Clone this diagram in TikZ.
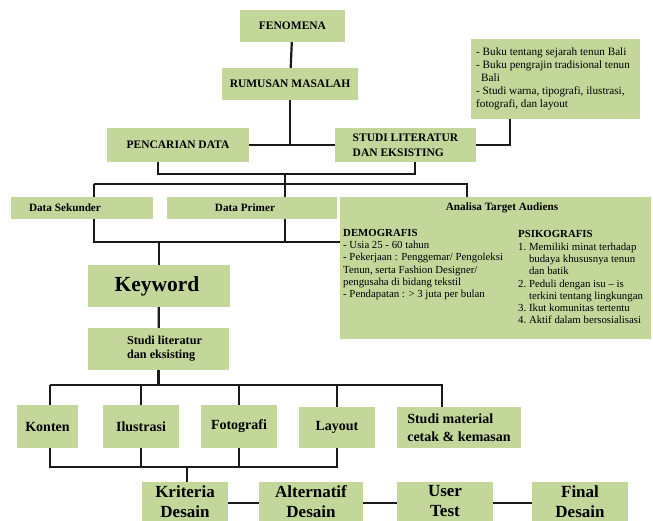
\documentclass[tikz,border=0pt]{standalone}
\usepackage{fontspec}
\setmainfont{Liberation Serif}
\usetikzlibrary{backgrounds}
\definecolor{boxgreen}{HTML}{C4D79B}
\definecolor{linecol}{HTML}{1A1A1A}
\newcommand{\fs}[2]{\fontsize{#1}{#2}\selectfont}
\begin{document}
\begin{tikzpicture}[x=1pt,y=-1pt,
  gbox/.style={fill=boxgreen, draw=none, inner sep=0pt, align=center, font=\bfseries},
  conn/.style={draw=linecol, line width=2.2pt},
  txt/.style={inner sep=0pt, anchor=north west, align=left},
]
\useasboundingbox (0,0) rectangle (653,521);
\clip (0,0) rectangle (653,521);

% top part
\node[gbox, minimum width=105pt, minimum height=32pt, font=\bfseries\fs{11.5}{13}] (fen) at (292.5,26) {FENOMENA};
\node[gbox, minimum width=136pt, minimum height=32pt, font=\bfseries\fs{11.5}{13}] (rum) at (290,84) {RUMUSAN MASALAH};
\node[gbox, minimum width=142pt, minimum height=34pt, font=\bfseries\fs{11.5}{13}] (pen) at (178,145) {PENCARIAN DATA};
\node[gbox, minimum width=141pt, minimum height=34pt, align=left, font=\bfseries\fs{11.5}{15}] (stu) at (405.5,145) {STUDI LITERATUR\\DAN EKSISTING};
\node[gbox, minimum width=169pt, minimum height=80pt] (note) at (555.5,79) {};
\node[txt, font=\fs{11.2}{13}] (notet) at (476,47.5) {- Buku tentang sejarah tenun Bali\\- Buku pengrajin tradisional tenun\\\hspace*{5pt}Bali\\- Studi warna, tipografi, ilustrasi,\\fotografi, dan layout};

% data row
\node[gbox, minimum width=142pt, minimum height=22pt, font=\bfseries\fs{11.2}{13}] (dsek) at (82,208) {Data Sekunder\hspace*{34pt}};
\node[gbox, minimum width=170pt, minimum height=22pt, font=\bfseries\fs{11.2}{13}] (dpri) at (252,208) {Data Primer\hspace*{14pt}};
\node[gbox, minimum width=311pt, minimum height=142pt] (ana) at (495.5,268) {};
\node[inner sep=0pt, font=\bfseries\fs{11.2}{13}] (anat) at (502,208) {Analisa Target Audiens};
\node[txt, font=\fs{10.8}{12.3}] (demo) at (343,229) {\textbf{DEMOGRAFIS}\\- Usia 25 - 60 tahun\\- Pekerjaan : Penggemar/ Pengoleksi\\Tenun, serta Fashion Designer/\\pengusaha di bidang tekstil\\- Pendapatan : > 3 juta per bulan};
\node[txt, font=\fs{10.8}{12.3}] (psiko) at (518,229) {\begin{tabular}{@{}l@{\ }l@{}}\multicolumn{2}{@{}l@{}}{\textbf{PSIKOGRAFIS}}\\
1. & Memiliki minat terhadap\\
 & budaya khususnya tenun\\
 & dan batik\\
2. & Peduli dengan isu – is\\
 & terkini tentang lingkungan\\
3. & Ikut komunitas tertentu\\
4. & Aktif dalam bersosialisasi\end{tabular}};

% keyword
\node[gbox, minimum width=142pt, minimum height=42pt, font=\bfseries\fs{21.5}{24}] (key) at (159,286) {Keyword\hspace*{4pt}};
\node[gbox, minimum width=141pt, minimum height=42pt, align=left, font=\bfseries\fs{12.2}{14}] (sl) at (158.5,349) {\hspace*{12pt}Studi literatur\\\hspace*{12pt}dan eksisting};

% studies row
\node[gbox, minimum width=61pt, minimum height=43pt, font=\bfseries\fs{14}{16}] (kon) at (47.5,426.5) {Konten};
\node[gbox, minimum width=76pt, minimum height=43pt, font=\bfseries\fs{14}{16}] (ilu) at (141,426.5) {Ilustrasi};
\node[gbox, minimum width=76pt, minimum height=43pt, font=\bfseries\fs{14}{16}] (fot) at (239,426.5) {Fotografi};
\node[gbox, minimum width=76pt, minimum height=41pt, font=\bfseries\fs{14}{16}] (lay) at (337,427.5) {Layout};
\node[gbox, minimum width=124pt, minimum height=41pt, align=left, font=\bfseries\fs{14}{18}] (smat) at (459,427.5) {Studi material\\cetak \& kemasan};

% bottom row
\node[gbox, minimum width=86pt, minimum height=39pt, font=\bfseries\fs{17}{20}] (kri) at (185,501.5) {Kriteria\\Desain};
\node[gbox, minimum width=104pt, minimum height=39pt, font=\bfseries\fs{17}{20}] (alt) at (311,501.5) {Alternatif\\Desain};
\node[gbox, minimum width=96pt, minimum height=39pt, font=\bfseries\fs{17}{20}] (usr) at (445,501.5) {User\\Test};
\node[gbox, minimum width=96pt, minimum height=39pt, font=\bfseries\fs{17}{20}] (fin) at (580,501.5) {Final\\Desain};

\begin{pgfonlayer}{background}
\coordinate (b1) at (285,174);
\coordinate (b2) at (285,184);
\coordinate (h1) at (94,184);
\coordinate (h2) at (467,184);
\coordinate (v1) at (94,242);
\coordinate (v2) at (285,242);
\coordinate (r1) at (50,385);
\coordinate (r2) at (442,385);
\coordinate (q) at (187,467);

\draw[conn] (fen) -- (rum);
\draw[conn] (rum.south) -- (rum.south |- pen.east);
\draw[conn] (pen.east) -- (stu.west);
\draw[conn] ([xshift=-45.5pt]note.south) |- (stu.east);
\draw[conn] ([xshift=-20pt]pen.south) |- (b1) -| ([xshift=9.5pt]stu.south);
\draw[conn] (b1) -- (b2);
\draw[conn] (h1) -- (h2) -- (h2 |- ana.north);
\draw[conn] (h1) -- (v1) -- (ana.west |- v1);
\draw[conn] (b2) -- (v2);
\draw[conn] (key.north |- v1) -- (key.north);
\draw[conn] (key) -- (sl);
\draw[conn] (sl.south) -- (sl.south |- r1);
\draw[conn] (r1) -- (r2) -- (r2 |- smat.north);
\draw[conn] (r1) -- (r1 |- kon.north);
\draw[conn] (ilu.north |- r1) -- (ilu.north);
\draw[conn] (fot.north |- r1) -- (fot.north);
\draw[conn] (lay.north |- r1) -- (lay.north);
\draw[conn] (r1 |- kon.south) |- (lay.south |- q) -- (lay.south);
\draw[conn] (ilu.south) -- (ilu.south |- q);
\draw[conn] (fot.south) -- (fot.south |- q);
\draw[conn] (q) -- (q |- kri.north);
\draw[conn] ([yshift=-1.5pt]kri.east) -- ([yshift=-1.5pt]alt.west);
\draw[conn] ([yshift=-1.5pt]alt.east) -- ([yshift=-1.5pt]usr.west);
\draw[conn] ([yshift=-1.5pt]usr.east) -- ([yshift=-1.5pt]fin.west);
\end{pgfonlayer}
\end{tikzpicture}
\end{document}
